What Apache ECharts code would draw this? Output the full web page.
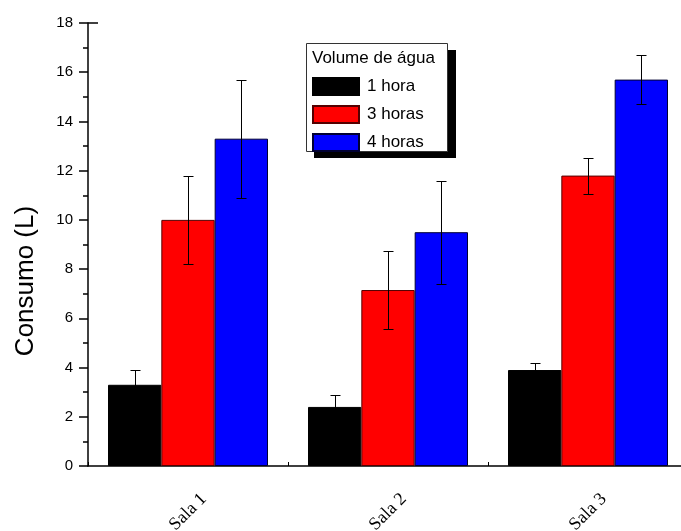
<!DOCTYPE html>
<html>
<head>
<meta charset="utf-8">
<script src="https://cdn.jsdelivr.net/npm/echarts@6/dist/echarts.min.js"></script>
<style>html,body{margin:0;padding:0;background:#fff}#c{width:681px;height:531px}</style>
</head>
<body>
<div id="c"></div>
<script>
var categories = ['Sala 1', 'Sala 2', 'Sala 3'];
var seriesNames = ['1 hora', '3 horas', '4 horas'];
var oneHour = [3.3, 2.4, 3.9];
var threeHours = [10.0, 7.15, 11.8];
var fourHours = [13.3, 9.5, 15.7];
var errOne = [0.6, 0.5, 0.27];
var errThree = [1.8, 1.58, 0.73];
var errFour = [2.4, 2.1, 1.0];
var yTicks = [0, 2, 4, 6, 8, 10, 12, 14, 16, 18];

var colors = ['#000000', '#ff0000', '#0000ff'];
var borders = ['#000000', '#550000', '#000033'];
var values = [oneHour, threeHours, fourHours];
var errs = [errOne, errThree, errFour];

var chart = echarts.init(document.getElementById('c'), null, {renderer: 'canvas'});
var FONT = 'Liberation Sans, Arial, sans-serif';

var series = [];
for (var s = 0; s < 3; s++) {
  series.push({
    name: seriesNames[s], type: 'bar', xAxisIndex: 0, yAxisIndex: 0,
    data: values[s], barGap: '0%', barCategoryGap: '20%',
    itemStyle: {color: colors[s], borderColor: borders[s], borderWidth: 1},
    z: 2
  });
}
var errData = [];
for (var s = 0; s < 3; s++) {
  for (var i = 0; i < categories.length; i++) {
    errData.push([i, values[s][i], errs[s][i], s]);
  }
}
series.push({
  type: 'custom', xAxisIndex: 0, yAxisIndex: 0, z: 5,
  data: errData,
  encode: {x: 0, y: 1},
  renderItem: function (params, api) {
    var ci = api.value(0), v = api.value(1), e = api.value(2), si = api.value(3);
    var band = api.size([1, 0])[0];
    var bw = band * 0.8 / 3;
    var c = api.coord([ci, v]);
    var x = Math.round(c[0] + (si - 1) * bw) + 0.5;
    var top = Math.round(api.coord([ci, v + e])[1]) + 0.5;
    var bot = Math.round(api.coord([ci, v - e])[1]) + 0.5;
    var cap = 5;
    var st = {stroke: '#000', lineWidth: 1};
    return {type: 'group', children: [
      {type: 'line', shape: {x1: x, y1: top, x2: x, y2: bot}, style: st},
      {type: 'line', shape: {x1: x - cap, y1: top, x2: x + cap, y2: top}, style: st},
      {type: 'line', shape: {x1: x - cap, y1: bot, x2: x + cap, y2: bot}, style: st}
    ]};
  }
});

var option = {
  animation: false,
  backgroundColor: '#fff',
  grid: {left: 88, top: 23, bottom: 65, width: 600, containLabel: false, outerBoundsMode: 'none'},
  legend: {
    data: seriesNames, orient: 'vertical', left: 312, top: 77, padding: 0,
    icon: 'rect', itemWidth: 46, itemHeight: 17, itemGap: 9,
    textStyle: {fontFamily: FONT, fontSize: 17, color: '#000', padding: [0, 0, 0, 3]},
    selectedMode: false, z: 20
  },
  xAxis: [{
    type: 'category', data: categories, position: 'bottom',
    axisLine: {lineStyle: {color: '#000', width: 1.5}},
    axisTick: {show: false},
    axisLabel: {rotate: 45, align: 'center', verticalAlign: 'middle', margin: 46,
      fontFamily: 'Liberation Serif, Times New Roman, serif', fontSize: 18, color: '#000'},
    splitLine: {show: false}
  }, {
    type: 'value', min: 0, max: 6, interval: 1, position: 'bottom',
    axisLine: {show: false}, axisLabel: {show: false}, splitLine: {show: false},
    axisTick: {show: true, inside: true, length: 4, lineStyle: {color: '#000'}}
  }],
  yAxis: [{
    type: 'value', min: yTicks[0], max: yTicks[yTicks.length - 1], interval: 2,
    axisLine: {show: true, lineStyle: {color: '#000', width: 1.5}},
    axisTick: {show: true, length: 9, lineStyle: {color: '#000', width: 1.5}},
    minorTick: {show: true, splitNumber: 2, length: 5, lineStyle: {color: '#000', width: 1.5}},
    axisLabel: {fontFamily: FONT, fontSize: 15, color: '#000', margin: 15},
    splitLine: {show: false}
  }],
  graphic: [
    {type: 'text', x: 26, y: 281, rotation: Math.PI / 2,
      style: {text: 'Consumo (L)', font: '26px ' + FONT, fill: '#000', align: 'center', verticalAlign: 'middle'}, z: 12},
    {type: 'line', shape: {x1: 88, y1: 23, x2: 98, y2: 23}, style: {stroke: '#000', lineWidth: 1.5}, z: 12},
    {type: 'rect', left: 314, top: 50, shape: {width: 142, height: 108}, style: {fill: '#000'}, z: 10},
    {type: 'rect', left: 306, top: 43, shape: {width: 141, height: 108}, style: {fill: '#fff', stroke: '#333', lineWidth: 1}, z: 11},
    {type: 'text', left: 312, top: 50, style: {text: 'Volume de água', font: '17px ' + FONT, fill: '#000'}, z: 12}
  ],
  series: series
};
chart.setOption(option);
</script>
</body>
</html>
